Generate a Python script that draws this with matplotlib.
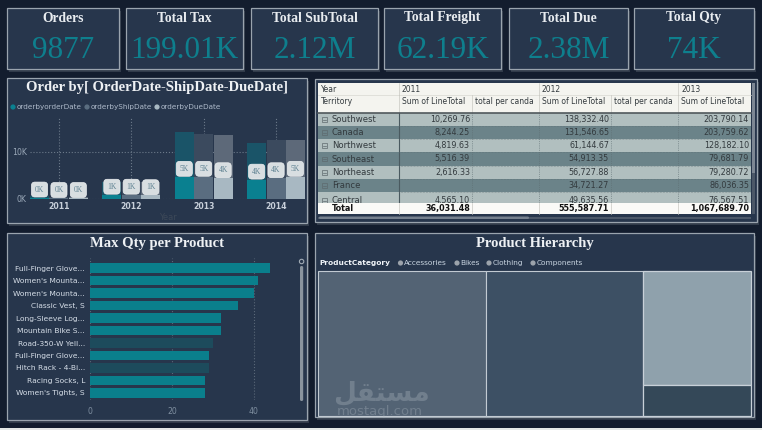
import matplotlib
matplotlib.use('Agg')
import matplotlib.pyplot as plt
from matplotlib.patches import Rectangle, Circle, FancyBboxPatch
import numpy as np

W, H = 762, 430

# ---- data ----
kpi_titles = ['Orders', 'Total Tax', 'Total SubTotal', 'Total Freight', 'Total Due', 'Total Qty']
kpi_values = ['9877', '199.01K', '2.12M', '62.19K', '2.38M', '74K']

years = ['2011', '2012', '2013', '2014']
series_names = ['orderbyorderDate', 'orderbyShipDate', 'orderbyDueDate']
# full values (thousands) and the cross-highlighted part
order_total = [0.6, 3.7, 14.2, 11.8]
ship_total = [0.5, 3.6, 13.7, 12.5]
due_total = [0.5, 3.6, 13.5, 12.6]
order_hl = [0.3, 0.9, 4.7, 4.1]
ship_hl = [0.2, 0.9, 4.7, 4.4]
due_hl = [0.2, 0.8, 4.4, 4.7]

territories = ['Southwest', 'Canada', 'Northwest', 'Southeast', 'Northeast', 'France', 'Central']
line_2011 = [10269.76, 8244.25, 4819.63, 5516.39, 2616.33, None, 4565.10]
line_2012 = [138332.40, 131546.65, 61144.67, 54913.35, 56727.88, 34721.27, 49635.56]
line_2013 = [203790.14, 203759.62, 128182.10, 79681.79, 79280.72, 86036.35, 76567.51]
totals = [36031.48, 555587.71, 1067689.70]

products = ['Full-Finger Glove...', "Women's Mounta...", "Women's Mounta...", 'Classic Vest, S',
            'Long-Sleeve Log...', 'Mountain Bike S...', 'Road-350-W Yell...', 'Full-Finger Glove...',
            'Hitch Rack - 4-Bi...', 'Racing Socks, L', "Women's Tights, S"]
max_qty = [44, 41, 40, 36, 32, 32, 30, 29, 29, 28, 28]
faded = [False, False, False, False, False, False, True, False, True, False, False]

categories = ['Accessories', 'Bikes', 'Clothing', 'Components']
cat_share = [38.8, 36.3, 19.6, 5.3]

# ---- colours ----
BG = '#131d2e'
CARD = '#27364c'
EDGE = '#9aa4ae'
TEAL = '#0e7f8d'

def ax_rect(x0, y0, x1, y1):
    return [x0 / W, 1 - y1 / H, (x1 - x0) / W, (y1 - y0) / H]

fig = plt.figure(figsize=(7.62, 4.30), dpi=100)
fig.patch.set_facecolor(BG)
bg = fig.add_axes([0, 0, 1, 1])
bg.set_xlim(0, W)
bg.set_ylim(H, 0)
bg.axis('off')

def panel(x0, y0, x1, y1, fc=CARD):
    bg.add_patch(Rectangle((x0 + 2, y0 + 3), x1 - x0, y1 - y0, fc='#56606e', ec='none', alpha=0.45, zorder=1))
    bg.add_patch(Rectangle((x0, y0), x1 - x0, y1 - y0, fc=fc, ec=EDGE, lw=0.9, zorder=2))

serif = 'Liberation Serif'

# KPI cards
cards = [(7, 119), (126, 243), (251, 378), (384, 501), (509, 628), (634, 754)]
for (x0, x1), t, v in zip(cards, kpi_titles, kpi_values):
    panel(x0, 8, x1, 69)
    cx = (x0 + x1) / 2
    bg.text(cx, 18, t, family=serif, weight='bold', fontsize=9.8, color='#e8ecf0',
            ha='center', va='center', zorder=5)
    bg.text(cx, 50, v, family=serif, fontsize=22.5, color=TEAL, ha='center', va='center', zorder=5)

# ---- column chart panel ----
panel(7, 78, 307, 223)
bg.text(157, 88, 'Order by[ OrderDate-ShipDate-DueDate]', family=serif, weight='bold',
        fontsize=10.5, color='#eef1f4', ha='center', va='center', zorder=5)
full_cols = ['#0a8090', '#5a6d80', '#a8b8c2']
fade_cols = ['#1a5468', '#3b4a5e', '#5d6979']
for xd, xt, name, c in zip([13, 87, 157], [17, 91, 161], series_names, full_cols):
    bg.add_patch(Circle((xd, 107), 2.6, fc=c, ec='none', zorder=5))
    bg.text(xt, 107, name, fontsize=5.2, color='#aebaca', ha='left', va='center', zorder=5)

ax1 = fig.add_axes(ax_rect(30, 118, 305, 199))
ax1.set_facecolor('none')
x = np.arange(len(years))
bw = 0.262
for k, (tot, hl) in enumerate([(order_total, order_hl), (ship_total, ship_hl), (due_total, due_hl)]):
    xs = x + (k - 1) * 0.268
    ax1.bar(xs, tot, width=bw, color=fade_cols[k], zorder=3)
    ax1.bar(xs, hl, width=bw, color=full_cols[k], zorder=3)
    for xi, v in zip(xs, hl):
        ax1.annotate(f'{round(v)}K', (xi, v), xytext=(0, 5.8), textcoords='offset points',
                     ha='center', va='center', family=serif, fontsize=5.5, color='#5f8292', zorder=6,
                     bbox=dict(boxstyle='round,pad=0.45', fc='#d8dee1', ec='#eef1f3', lw=0.5))
ax1.set_xlim(-0.40, 3.40)
ax1.set_ylim(0, 17.2)
ax1.set_xticks(x)
ax1.set_xticklabels(years, fontsize=5.6, weight='bold', color='#c8d0da')
ax1.set_yticks([0, 10])
ax1.set_yticklabels(['0K', '10K'], fontsize=5.6, color='#9aa8b8')
ax1.tick_params(length=0, pad=2.5)
ax1.grid(True, ls=':', color='#6c7a8a', lw=0.8, zorder=0)
for s in ax1.spines.values():
    s.set_visible(False)
ax1.set_xlabel('Year', fontsize=6, color='#3c4858', labelpad=1)

# ---- table panel ----
panel(315, 79, 757, 222)
cols = [318, 399, 472, 539, 611, 678, 751]
fs = 5.5
tc = '#333a3e'
bg.add_patch(Rectangle((318, 83), 433, 30, fc='#f4f4ef', ec='none', zorder=3))
row_top = [113, 126, 139, 152, 166, 179, 192]
row_bot = [126, 139, 152, 166, 179, 192, 203]
for i, name in enumerate(territories):
    fc = '#b1bfbf' if i % 2 == 0 else '#6b8389'
    bg.add_patch(Rectangle((318, row_top[i]), 433, row_bot[i] - row_top[i] + 3, fc=fc, ec='none', zorder=3))
    cy = (row_top[i] + row_bot[i]) / 2 + (3 if i == 6 else 0)
    # expand/collapse icon
    bg.add_patch(Rectangle((322, cy - 2.3), 4.6, 4.6, fc='none', ec='#5e6a6e', lw=0.5, zorder=4))
    bg.plot([323.2, 325.7], [cy, cy], color='#5e6a6e', lw=0.5, zorder=4)
    bg.text(332, cy, name, fontsize=6.1, color=tc, ha='left', va='center', zorder=4)
    for ci, vals in zip([1, 3, 5], [line_2011, line_2012, line_2013]):
        v = vals[i]
        if v is not None:
            bg.text(cols[ci + 1] - 2, cy, f'{v:,.2f}', fontsize=5.8, color=tc,
                    ha='right', va='center', zorder=4)
# header texts
bg.text(321, 89, 'Year', fontsize=fs, color=tc, va='center', zorder=4)
for ci, yr in zip([1, 3, 5], ['2011', '2012', '2013']):
    bg.text(cols[ci] + 3, 89, yr, fontsize=fs, color=tc, va='center', zorder=4)
hdr2 = ['Territory', 'Sum of LineTotal', 'total per canda', 'Sum of LineTotal', 'total per canda', 'Sum of LineTotal']
for ci, h in enumerate(hdr2):
    bg.text(cols[ci] + 3, 102, h, fontsize=fs, color=tc, va='center', zorder=4)
# lines
bg.plot([318, 751], [95, 95], color='#d8d8d2', lw=0.5, zorder=4)
bg.plot([318, 751], [113, 113], color='#50585c', lw=1.2, zorder=5)
for ci in [1, 3, 5]:
    bg.plot([cols[ci]] * 2, [83, 95], color='#c8c8c2', lw=0.5, zorder=4)
for ci in range(1, 6):
    bg.plot([cols[ci]] * 2, [95, 113], color='#c8c8c2', lw=0.5, zorder=4)
    bg.plot([cols[ci]] * 2, [113, 203], color='#4a5a60' if ci == 1 else '#5d6d72',
            lw=0.8 if ci == 1 else 0.5, ls='-' if ci == 1 else ':', zorder=4)
    bg.plot([cols[ci]] * 2, [203, 214], color='#c8c8c2', lw=0.5, zorder=6)
for yb in row_bot[:-1]:
    bg.plot([399, 751], [yb, yb], color='#5d6d72', lw=0.4, ls=':', zorder=4)
# total row
bg.add_patch(Rectangle((318, 203), 433, 11, fc='#fafaf7', ec='none', zorder=5))
bg.text(332, 208.5, 'Total', fontsize=5.8, weight='bold', color='#111', va='center', zorder=6)
for ci, v in zip([1, 3, 5], totals):
    bg.text(cols[ci + 1] - 2, 208.5, f'{v:,.2f}', fontsize=5.8, weight='bold', color='#111',
            ha='right', va='center', zorder=6)
# scrollbars
bg.add_patch(Rectangle((318, 216.5), 433, 2.5, fc='#4c5868', ec='none', zorder=4))
bg.add_patch(FancyBboxPatch((319, 216.5), 210, 2.5, boxstyle='round,pad=0,rounding_size=1.2',
                            fc='#76818e', ec='none', zorder=5))
bg.add_patch(Rectangle((752, 83), 3, 131, fc='#4c5868', ec='none', zorder=4))
bg.add_patch(Rectangle((752, 83), 3, 90, fc='#7d8794', ec='none', zorder=5))

# ---- horizontal bar panel ----
panel(7, 233, 307, 420)
bg.text(157, 243, 'Max Qty per Product', family=serif, weight='bold', fontsize=10.5,
        color='#eef1f4', ha='center', va='center', zorder=5)
ax2 = fig.add_axes(ax_rect(90, 258, 297, 400))
ax2.set_facecolor('none')
yy = np.arange(len(products))
ax2.barh(yy, max_qty, height=0.75, color=['#1d4b5c' if f else '#0a7f8c' for f in faded], zorder=3)
ax2.set_ylim(10.56, -0.8)
ax2.set_xlim(0, 50.5)
ax2.set_yticks(yy)
ax2.set_yticklabels(products, fontsize=5.4, color='#d6dee8')
ax2.set_xticks([0, 20, 40])
ax2.set_xticklabels(['0', '20', '40'], fontsize=5.6, color='#7f8fa0')
ax2.tick_params(length=0, pad=3.6)
ax2.tick_params(axis='x', pad=5)
ax2.grid(True, axis='x', ls=':', color='#5a6878', lw=0.8, zorder=0)
for s in ax2.spines.values():
    s.set_visible(False)
bg.add_patch(FancyBboxPatch((300, 266), 3.2, 135, boxstyle='round,pad=0,rounding_size=1.5',
                            fc='#8a949e', ec='none', zorder=5))
bg.add_patch(Circle((301.6, 261.5), 2.2, fc='none', ec='#a0aab4', lw=0.8, zorder=5))

# ---- treemap panel ----
panel(315, 233, 754, 417)
bg.text(535, 243, 'Product Hierarchy', family=serif, weight='bold', fontsize=10.5,
        color='#eef1f4', ha='center', va='center', zorder=5)
bg.text(319, 263, 'ProductCategory', fontsize=5.3, weight='bold', color='#f0f4f8', va='center', zorder=5)
for xd, cat in zip([400.5, 457, 489, 533], categories):
    bg.add_patch(Circle((xd, 263), 2.6, fc='#9ca3ab', ec='none', zorder=5))
    bg.text(xd + 3.5, 263, cat, fontsize=5.3, color='#c8d4e0', va='center', zorder=5)

tx0, ty0, tw, th = 318, 271, 433, 145
tm_cols = ['#536374', '#3d5064', '#8fa1ac', '#344858']
tot = sum(cat_share)
xcur = tx0
for i in range(2):
    w = cat_share[i] / tot * tw
    bg.add_patch(Rectangle((xcur, ty0), w, th, fc=tm_cols[i], ec='#c2cad2', lw=0.8, zorder=3))
    xcur += w
rest = cat_share[2:]
wlast = sum(rest) / tot * tw
ycur = ty0
for j, v in enumerate(rest):
    hh = v / sum(rest) * th
    bg.add_patch(Rectangle((xcur, ycur), wlast, hh, fc=tm_cols[2 + j], ec='#c8d0d8', lw=0.9, zorder=3))
    ycur += hh

# watermark
bg.text(381, 393, '\ufede\ufed8\ufe98\ufeb4\ufee3', family='DejaVu Sans', fontsize=19, weight='bold',
        color='#aab4be', alpha=0.35, ha='center', va='center', zorder=7)
bg.text(380, 412, 'mostaql.com', fontsize=9.5, color='#aab4be', alpha=0.35,
        ha='center', va='center', zorder=7)

bg.add_patch(Rectangle((0, 427.5), W, 3, fc='#e4e8e6', ec='none', zorder=8))

fig.savefig('out.png', dpi=100, facecolor=fig.get_facecolor())
